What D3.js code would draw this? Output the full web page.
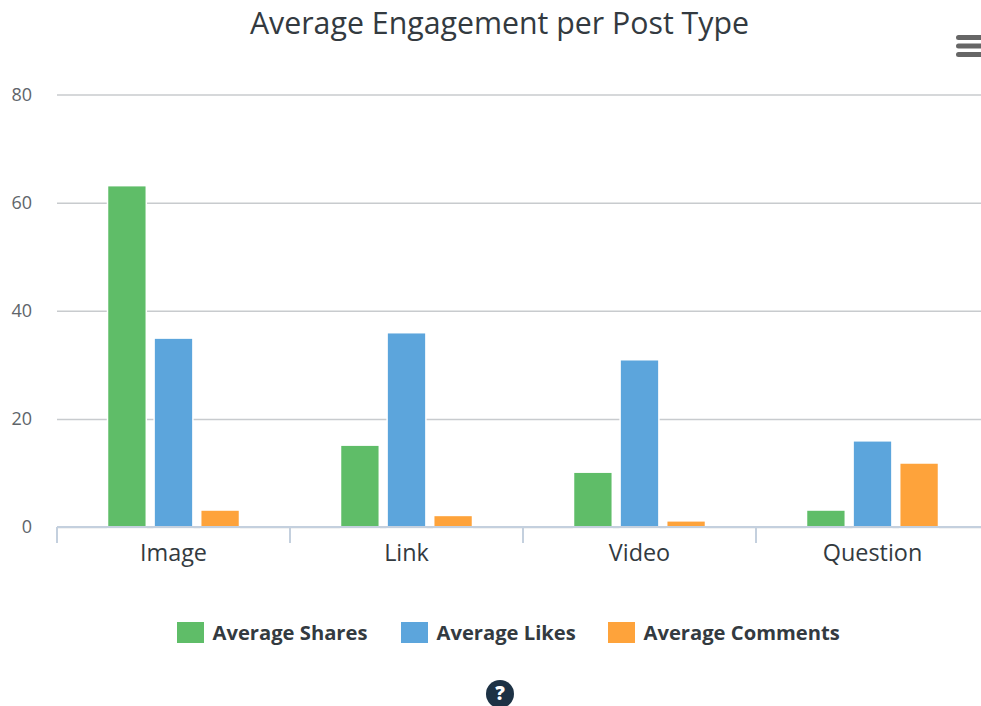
<!DOCTYPE html>
<html>
<head>
<meta charset="utf-8">
<title>Average Engagement per Post Type</title>
<script src="https://cdn.jsdelivr.net/npm/d3@7/dist/d3.min.js"></script>
<style>
    html, body { margin: 0; padding: 0; background: #fff; overflow: hidden; }
    svg { display: block; font-family: "Open Sans", sans-serif; }
</style>
</head>
<body>
<svg id="chart" width="981" height="706"></svg>
<script>
var categories = ['Image', 'Link', 'Video', 'Question'];
var seriesNames = ['Average Shares', 'Average Likes', 'Average Comments'];
var seriesColors = ['#5fbd68', '#5ca5dc', '#fea33b'];
var averageShares = [63, 15, 10, 3];
var averageLikes = [34.8, 35.8, 30.8, 15.8];
var averageComments = [3, 2, 1, 11.7];
var seriesValues = [averageShares, averageLikes, averageComments];
var yTicks = [0, 20, 40, 60, 80];

var svg = d3.select('#chart');
var plotLeft = 57, plotRight = 989, plotTop = 94.5, plotBottom = 527;
var textColor = '#333a40';
var axisColor = '#c4d0de';

var scaleX = d3.scaleBand()
    .domain(categories)
    .range([plotLeft, plotRight]);

var groupPad = scaleX.bandwidth() * 0.2;

var scaleSeries = d3.scaleBand()
    .domain(seriesNames)
    .range([groupPad, scaleX.bandwidth() - groupPad])
    .paddingInner(0.2)
    .paddingOuter(0.1);

var scaleY = d3.scaleLinear()
    .domain([0, 80])
    .range([plotBottom, plotTop]);

svg.append('text')
    .attr('x', 499.5)
    .attr('y', 34)
    .attr('text-anchor', 'middle')
    .attr('font-size', 30.3)
    .attr('fill', textColor)
    .text('Average Engagement per Post Type');

// gridlines and y labels
var yAxis = svg.append('g')
    .attr('transform', 'translate(' + plotLeft + ',0)')
    .call(d3.axisLeft(scaleY).tickValues(yTicks).tickSize(-(plotRight - plotLeft)).tickPadding(25));
yAxis.select('.domain').remove();
yAxis.selectAll('line')
    .attr('stroke', '#c8cbce')
    .attr('stroke-width', 1.5);
yAxis.selectAll('text')
    .attr('font-family', '"Open Sans", sans-serif')
    .attr('font-size', 18)
    .attr('fill', '#60656a');

// bars, the white halo breaks the gridlines next to each bar
var groups = svg.selectAll('g.series')
    .data(seriesNames)
    .enter().append('g')
    .attr('class', 'series')
    .attr('fill', function (d, i) { return seriesColors[i]; });

groups.selectAll('rect')
    .data(function (d, i) {
        return categories.map(function (c, j) {
            return { category: c, name: d, value: seriesValues[i][j] };
        });
    })
    .enter().append('rect')
    .attr('x', function (d) { return scaleX(d.category) + scaleSeries(d.name); })
    .attr('y', function (d) { return scaleY(d.value); })
    .attr('width', scaleSeries.bandwidth())
    .attr('height', function (d) { return scaleY(0) - scaleY(d.value); })
    .attr('stroke', '#fff')
    .attr('stroke-width', 3)
    .attr('paint-order', 'stroke');

// x axis, ticks sit on the category edges
var xAxis = svg.append('g')
    .attr('transform', 'translate(0,' + plotBottom + ')')
    .call(d3.axisBottom(scaleX).tickSize(0).tickPadding(17));
xAxis.select('.domain').remove();
xAxis.selectAll('text')
    .attr('font-family', '"Open Sans", sans-serif')
    .attr('font-size', 23.4)
    .attr('fill', textColor);

xAxis.append('line')
    .attr('x1', plotLeft)
    .attr('x2', plotRight)
    .attr('stroke', axisColor)
    .attr('stroke-width', 2);

xAxis.selectAll('line.edge')
    .data(categories.concat(['end']))
    .enter().append('line')
    .attr('class', 'edge')
    .attr('x1', function (d) { return d === 'end' ? plotRight : scaleX(d); })
    .attr('x2', function (d) { return d === 'end' ? plotRight : scaleX(d); })
    .attr('y1', 0)
    .attr('y2', 16)
    .attr('stroke', axisColor)
    .attr('stroke-width', 2);

// legend
var legendX = [177, 401, 608];
var legend = svg.selectAll('g.legend')
    .data(seriesNames)
    .enter().append('g')
    .attr('class', 'legend')
    .attr('transform', function (d, i) { return 'translate(' + legendX[i] + ',622)'; });

legend.append('rect')
    .attr('width', 27)
    .attr('height', 21)
    .attr('fill', function (d, i) { return seriesColors[i]; });

legend.append('text')
    .attr('x', 35.5)
    .attr('y', 18)
    .attr('font-size', 20.2)
    .attr('font-weight', 700)
    .attr('fill', textColor)
    .text(function (d) { return d; });

// context menu icon
var menu = svg.append('g').attr('fill', '#666');
[0, 1, 2].forEach(function (i) {
    menu.append('rect')
        .attr('x', 956)
        .attr('y', 35 + i * 8.5)
        .attr('width', 30)
        .attr('height', 5)
        .attr('rx', 2.5);
});

// help icon
svg.append('circle')
    .attr('cx', 500)
    .attr('cy', 694)
    .attr('r', 14)
    .attr('fill', '#1d3245');
svg.append('text')
    .attr('x', 500)
    .attr('y', 700)
    .attr('text-anchor', 'middle')
    .attr('font-size', 19)
    .attr('font-weight', 800)
    .attr('fill', '#fff')
    .text('?');
</script>
</body>
</html>
